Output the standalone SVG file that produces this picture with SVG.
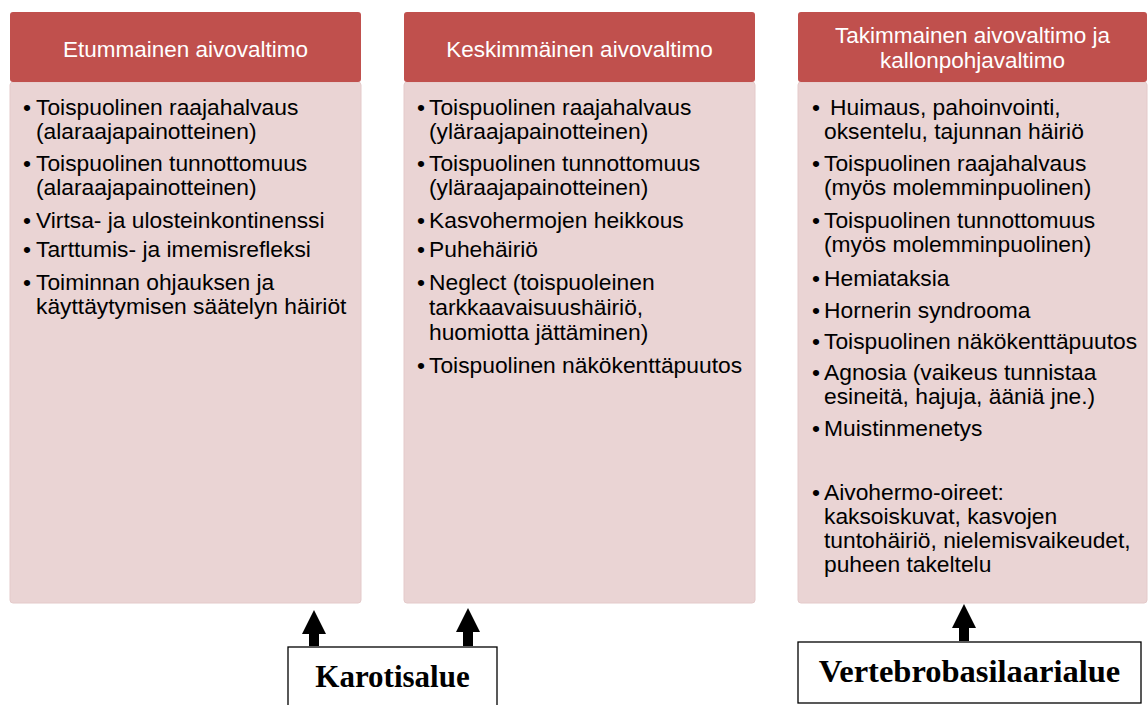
<svg xmlns="http://www.w3.org/2000/svg" width="1148" height="705" viewBox="0 0 1148 705">
<defs>
<style>
.hdr{fill:#C0504D}
.body{fill:#EAD4D4;stroke:#E4CACA;stroke-width:1}
.ht{font-family:"Liberation Sans",Arial,sans-serif;font-size:22.5px;fill:#FFFFFF;text-anchor:middle}
.bt{font-family:"Liberation Sans",Arial,sans-serif;font-size:22.8px;fill:#000000}
.lab{font-family:"Liberation Serif","Times New Roman",serif;font-size:31px;font-weight:bold;fill:#000000;text-anchor:middle}
.lbox{fill:#FFFFFF;stroke:#000000;stroke-width:1.3}
.conn{stroke:#000000;stroke-width:10;fill:none}
</style>
<marker id="ah" markerUnits="userSpaceOnUse" markerWidth="24" markerHeight="24" viewBox="0 0 24 24" refX="0" refY="12" orient="auto">
<path d="M0,0 L24,12 L0,24 z" fill="#000000"/>
</marker>
</defs>
<rect width="1148" height="705" fill="#FFFFFF"/>

<g id="col1">
<rect class="body" x="10" y="82" width="351" height="521" rx="3"/>
<rect class="hdr" x="10" y="12" width="351" height="70" rx="3"/>
<text class="ht" x="185.5" y="57">Etummainen aivovaltimo</text>
<g class="bt">
<text x="23" y="115">•</text><text x="36" y="115">Toispuolinen raajahalvaus</text>
<text x="36" y="139">(alaraajapainotteinen)</text>
<text x="23" y="171">•</text><text x="36" y="171">Toispuolinen tunnottomuus</text>
<text x="36" y="195">(alaraajapainotteinen)</text>
<text x="23" y="228">•</text><text x="36" y="228">Virtsa- ja ulosteinkontinenssi</text>
<text x="23" y="257">•</text><text x="36" y="257">Tarttumis- ja imemisrefleksi</text>
<text x="23" y="290">•</text><text x="36" y="290">Toiminnan ohjauksen ja</text>
<text x="36" y="314">käyttäytymisen säätelyn häiriöt</text>
</g>
</g>

<g id="col2">
<rect class="body" x="404" y="82" width="351" height="521" rx="3"/>
<rect class="hdr" x="404" y="12" width="351" height="70" rx="3"/>
<text class="ht" x="579.5" y="57">Keskimmäinen aivovaltimo</text>
<g class="bt">
<text x="417" y="115">•</text><text x="429" y="115">Toispuolinen raajahalvaus</text>
<text x="429" y="139">(yläraajapainotteinen)</text>
<text x="417" y="171">•</text><text x="429" y="171">Toispuolinen tunnottomuus</text>
<text x="429" y="195">(yläraajapainotteinen)</text>
<text x="417" y="228">•</text><text x="429" y="228">Kasvohermojen heikkous</text>
<text x="417" y="257">•</text><text x="429" y="257">Puhehäiriö</text>
<text x="417" y="290">•</text><text x="429" y="290">Neglect (toispuoleinen</text>
<text x="429" y="315">tarkkaavaisuushäiriö,</text>
<text x="429" y="340">huomiotta jättäminen)</text>
<text x="417" y="373">•</text><text x="429" y="373">Toispuolinen näkökenttäpuutos</text>
</g>
</g>

<g id="col3">
<rect class="body" x="798" y="82" width="349" height="521" rx="3"/>
<rect class="hdr" x="798" y="12" width="349" height="70" rx="3"/>
<text class="ht" x="972.5" y="43">Takimmainen aivovaltimo ja</text>
<text class="ht" x="972.5" y="68">kallonpohjavaltimo</text>
<g class="bt">
<text x="812" y="115">•</text><text x="830" y="115">Huimaus, pahoinvointi,</text>
<text x="824" y="139">oksentelu, tajunnan häiriö</text>
<text x="812" y="171">•</text><text x="824" y="171">Toispuolinen raajahalvaus</text>
<text x="824" y="195">(myös molemminpuolinen)</text>
<text x="812" y="228">•</text><text x="824" y="228">Toispuolinen tunnottomuus</text>
<text x="824" y="252">(myös molemminpuolinen)</text>
<text x="812" y="286">•</text><text x="824" y="286">Hemiataksia</text>
<text x="812" y="318">•</text><text x="824" y="318">Hornerin syndrooma</text>
<text x="812" y="349">•</text><text x="824" y="349">Toispuolinen näkökenttäpuutos</text>
<text x="812" y="380">•</text><text x="824" y="380">Agnosia (vaikeus tunnistaa</text>
<text x="824" y="404">esineitä, hajuja, ääniä jne.)</text>
<text x="812" y="436">•</text><text x="824" y="436">Muistinmenetys</text>
<text x="812" y="500">•</text><text x="824" y="500">Aivohermo-oireet:</text>
<text x="824" y="524">kaksoiskuvat, kasvojen</text>
<text x="824" y="548">tuntohäiriö, nielemisvaikeudet,</text>
<text x="824" y="572">puheen takeltelu</text>
</g>
</g>

<g id="karotisalue">
<rect class="lbox" x="288" y="647" width="209" height="70"/>
<text class="lab" x="392.5" y="687">Karotisalue</text>
</g>

<g id="vertebrobasilaarialue">
<rect class="lbox" x="798" y="642" width="343" height="61"/>
<text class="lab" x="969.5" y="682" style="font-size:32.5px">Vertebrobasilaarialue</text>
</g>

<g id="connectors">
<line class="conn" x1="314" y1="646" x2="314" y2="634" marker-end="url(#ah)"/>
<line class="conn" x1="468" y1="646" x2="468" y2="632" marker-end="url(#ah)"/>
<line class="conn" x1="964" y1="641" x2="964" y2="628" marker-end="url(#ah)"/>
</g>
</svg>
